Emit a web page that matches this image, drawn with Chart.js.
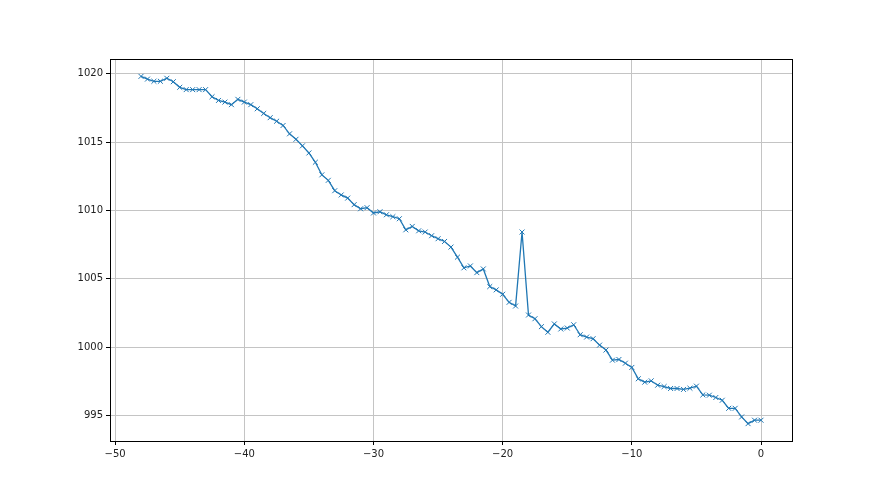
<!DOCTYPE html>
<html>
<head>
<meta charset="utf-8">
<script src="https://cdn.jsdelivr.net/npm/chart.js@4.4.0/dist/chart.umd.min.js"></script>
<style>
  html, body { margin: 0; padding: 0; background: #ffffff; }
  #wrap { width: 880px; height: 495px; }
</style>
</head>
<body>
<div id="wrap"><canvas id="pressureChart" width="880" height="495"></canvas></div>
<script>
// x positions: -48 .. 0 in half steps
const xValues = [
    -48, -47.5, -47, -46.5, -46, -45.5, -45, -44.5, -44, -43.5,
    -43, -42.5, -42, -41.5, -41, -40.5, -40, -39.5, -39, -38.5,
    -38, -37.5, -37, -36.5, -36, -35.5, -35, -34.5, -34, -33.5,
    -33, -32.5, -32, -31.5, -31, -30.5, -30, -29.5, -29, -28.5,
    -28, -27.5, -27, -26.5, -26, -25.5, -25, -24.5, -24, -23.5,
    -23, -22.5, -22, -21.5, -21, -20.5, -20, -19.5, -19, -18.5,
    -18, -17.5, -17, -16.5, -16, -15.5, -15, -14.5, -14, -13.5,
    -13, -12.5, -12, -11.5, -11, -10.5, -10, -9.5, -9, -8.5,
    -8, -7.5, -7, -6.5, -6, -5.5, -5, -4.5, -4, -3.5,
    -3, -2.5, -2, -1.5, -1, -0.5, 0
];

const pressureValues = [
    1019.8, 1019.6, 1019.44, 1019.44, 1019.66, 1019.41, 1019.0, 1018.83, 1018.83, 1018.83,
    1018.83, 1018.31, 1018.04, 1017.92, 1017.73, 1018.12, 1017.92, 1017.73, 1017.43, 1017.09,
    1016.78, 1016.52, 1016.21, 1015.6, 1015.2, 1014.72, 1014.2, 1013.52, 1012.6, 1012.2,
    1011.44, 1011.13, 1010.9, 1010.42, 1010.12, 1010.2, 1009.81, 1009.9, 1009.68, 1009.54,
    1009.39, 1008.58, 1008.83, 1008.51, 1008.42, 1008.15, 1007.93, 1007.73, 1007.32, 1006.58,
    1005.8, 1005.94, 1005.45, 1005.72, 1004.43, 1004.19, 1003.87, 1003.28, 1003.01, 1008.42,
    1002.35, 1002.08, 1001.5, 1001.09, 1001.7, 1001.33, 1001.4, 1001.64, 1000.91, 1000.74,
    1000.62, 1000.15, 999.79, 999.05, 999.1, 998.83, 998.52, 997.69, 997.44, 997.54,
    997.22, 997.12, 996.98, 996.98, 996.91, 997.0, 997.15, 996.51, 996.49, 996.32,
    996.12, 995.53, 995.53, 994.9, 994.41, 994.66, 994.66
];

const xTicks = [-50, -40, -30, -20, -10, 0];
const yTicks = [995, 1000, 1005, 1010, 1015, 1020];

const points = xValues.map((x, i) => ({ x: x, y: pressureValues[i] }));

// matplotlib style 5% margins
function padRange(values) {
    const lo = Math.min(...values);
    const hi = Math.max(...values);
    const m = (hi - lo) * 0.05;
    return [lo - m, hi + m];
}
const [xMin, xMax] = padRange(xValues);
const [yMin, yMax] = padRange(pressureValues);

const frame = {
    id: 'frame',
    afterDraw(chart) {
        const a = chart.chartArea;
        const ctx = chart.ctx;
        ctx.save();
        ctx.strokeStyle = '#000000';
        ctx.lineWidth = 1;
        ctx.strokeRect(Math.round(a.left) + 0.5, Math.round(a.top) + 0.5,
            Math.round(a.right - a.left), Math.round(a.bottom - a.top));
        ctx.restore();
    }
};

const ctx = document.getElementById('pressureChart').getContext('2d');
new Chart(ctx, {
    type: 'scatter',
    data: {
        datasets: [{
            data: points,
            showLine: true,
            borderColor: '#1f77b4',
            backgroundColor: '#1f77b4',
            borderWidth: 1.3,
            pointStyle: 'crossRot',
            pointRadius: 3.5,
            pointBorderWidth: 1,
            pointHoverRadius: 3.5,
            tension: 0
        }]
    },
    options: {
        responsive: false,
        animation: false,
        devicePixelRatio: 1,
        layout: { padding: { left: 0, top: 59, right: 88, bottom: 0 } },
        plugins: {
            legend: { display: false },
            tooltip: { enabled: false }
        },
        scales: {
            x: {
                type: 'linear',
                min: xMin,
                max: xMax,
                afterBuildTicks: (axis) => { axis.ticks = xTicks.map(v => ({ value: v })); },
                afterFit: (axis) => { axis.height = 54; },
                grid: { color: '#c4c4c4', lineWidth: 1, tickColor: '#000000', tickLength: 4 },
                border: { display: false },
                ticks: {
                    color: '#222222',
                    padding: 3,
                    maxRotation: 0,
                    font: { family: 'DejaVu Sans', size: 10 },
                    callback: (v) => String(v).replace('-', '\u2212')
                }
            },
            y: {
                type: 'linear',
                min: yMin,
                max: yMax,
                afterBuildTicks: (axis) => { axis.ticks = yTicks.map(v => ({ value: v })); },
                afterFit: (axis) => { axis.width = 110; },
                grid: { color: '#c4c4c4', lineWidth: 1, tickColor: '#000000', tickLength: 4 },
                border: { display: false },
                ticks: {
                    color: '#222222',
                    padding: 3,
                    font: { family: 'DejaVu Sans', size: 10 },
                    callback: (v) => String(v)
                }
            }
        }
    },
    plugins: [frame]
});
</script>
</body>
</html>
